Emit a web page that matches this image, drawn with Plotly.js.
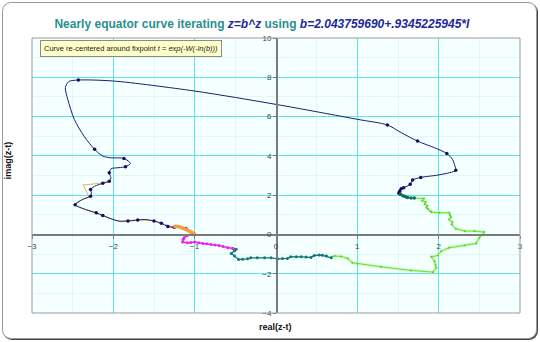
<!DOCTYPE html>
<html>
<head>
<meta charset="utf-8">
<script src="https://cdn.plot.ly/plotly-3.0.1.min.js"></script>
<style>
html,body{margin:0;padding:0;background:#fff;}
#frame{position:absolute;left:2px;top:2px;width:533px;height:335px;border:1px solid #9a9a9a;border-radius:9px;box-shadow:1px 1px 0 #444;background:#fff;}
#chart{position:absolute;left:0;top:0;width:540px;height:342px;}
</style>
</head>
<body>
<div id="frame"></div>
<div id="chart"></div>
<script>
// Navy segment (smooth line)
const navyX = [-1.05,-1.11,-1.17,-1.25,-1.33,-1.41,-1.50,-1.60,-1.70,-1.82,-1.93,-2.03,-2.13,-2.21,-2.34,-2.47,-2.38,-2.28,-2.27,-2.28,-2.21,-2.13,-2.05,-2.03,-2.05,-2.03,-1.93,-1.85,-1.79,-1.87,-2.03,-2.13,-2.23,-2.36,-2.48,-2.56,-2.59,-2.55,-2.43,-2.0,-1.0,0.0,1.0,1.37,1.54,1.74,1.95,2.10,2.17,2.20,2.21,2.03,1.78,1.68,1.65,1.57,1.52,1.52,1.53];
const navyY = [0.17,0.30,0.40,0.36,0.40,0.57,0.68,0.76,0.73,0.68,0.68,0.80,0.97,1.10,1.27,1.51,1.78,1.95,2.12,2.29,2.49,2.60,2.71,2.89,3.14,3.34,3.40,3.45,3.61,3.87,3.90,3.99,4.33,5.0,5.86,6.87,7.47,7.78,7.86,7.81,7.30,6.62,5.86,5.57,5.18,4.75,4.41,4.12,3.82,3.48,3.27,3.05,2.90,2.77,2.55,2.38,2.30,2.15,2.04];
// Navy computed points (dots)
const navyDotX = [-1.11,-1.25,-1.33,-1.41,-1.50,-1.70,-1.82,-2.13,-2.21,-2.47,-2.28,-2.28,-2.13,-2.05,-2.05,-1.85,-1.87,-2.23,-2.43,1.37,1.74,2.10,2.21,1.78,1.68,1.65,1.57,1.54,1.52,1.51,1.53];
const navyDotY = [0.30,0.36,0.40,0.57,0.68,0.73,0.68,0.97,1.10,1.51,1.95,2.29,2.60,2.71,3.14,3.45,3.87,4.33,7.86,5.57,4.75,4.12,3.27,2.90,2.77,2.55,2.38,2.33,2.20,2.10,2.04];
// Teal segment near (1.6, 1.9)
const teal1X = [1.53,1.56,1.58,1.60,1.62,1.66,1.70];
const teal1Y = [2.04,1.97,1.95,1.90,1.88,1.86,1.85];
// Light green segment
const greenX = [1.70,1.82,1.80,1.84,1.83,1.86,1.85,1.87,1.90,1.91,2.01,2.13,2.14,2.15,2.13,2.17,2.16,2.21,2.32,2.44,2.56,2.50,2.46,2.32,2.13,2.03,1.99,1.91,1.95,1.96,1.97,1.93,1.66,1.29,1.0,0.94,0.88,0.80,0.72,0.68];
const greenY = [1.85,1.83,1.72,1.65,1.55,1.45,1.36,1.28,1.18,1.14,1.10,1.10,0.98,0.88,0.76,0.62,0.51,0.29,0.17,0.17,0.12,-0.17,-0.46,-0.56,-0.68,-0.85,-1.07,-1.14,-1.36,-1.55,-1.70,-1.92,-1.83,-1.65,-1.49,-1.44,-1.22,-1.12,-1.10,-1.15];
// Teal segment along y ~ -1.2
const teal2X = [0.68,0.62,0.57,0.53,0.47,0.43,0.37,0.31,0.25,0.18,0.14,0.08,0.02,-0.06,-0.14,-0.23,-0.31,-0.35,-0.41,-0.46,-0.51,-0.55,-0.51,-0.49,-0.53];
const teal2Y = [-1.19,-1.10,-1.06,-1.05,-1.07,-1.17,-1.15,-1.14,-1.13,-1.14,-1.22,-1.23,-1.24,-1.19,-1.19,-1.19,-1.19,-1.24,-1.26,-1.27,-1.10,-0.97,-0.83,-0.76,-0.72];
// Magenta segment
const magX = [-0.53,-0.59,-0.65,-0.70,-0.75,-0.80,-0.85,-0.90,-0.95,-1.0,-1.05,-1.09,-1.15,-1.14,-1.13,-1.09,-1.03,-1.0];
const magY = [-0.72,-0.68,-0.62,-0.56,-0.54,-0.51,-0.48,-0.46,-0.42,-0.39,-0.41,-0.42,-0.39,-0.25,-0.17,-0.05,0.0,0.0];
// Orange segment
const orangeX = [-1.0,-1.05,-1.11,-1.17,-1.29,-1.41,-1.52,-1.70,-1.93,-2.13,-2.34,-2.47,-2.40,-2.30,-2.37,-2.26,-2.15,-2.05];
const orangeY = [0.0,0.12,0.25,0.40,0.42,0.57,0.70,0.75,0.66,0.95,1.25,1.51,1.72,1.92,2.52,2.56,2.62,2.72];
const orangeDotX = [-1.0,-1.01,-1.03,-1.05,-1.07,-1.09,-1.12,-1.15,-1.18,-1.21,-1.24];
const orangeDotY = [0.0,0.04,0.08,0.12,0.17,0.22,0.28,0.33,0.38,0.41,0.40];

const titleText = 'Nearly equator curve iterating <span style="color:#1c2a9c"><i>z=b^z</i></span> using <span style="color:#1c2a9c"><i>b=2.043759690+.9345225945*I</i></span>';
const boxText = 'Curve re-centered around fixpoint <i>t = exp(-W(-ln(b)))</i>';

const traces = [
  {x: orangeX, y: orangeY, mode: 'lines', line: {color: '#f0b050', width: 1}, hoverinfo: 'skip'},
  {x: greenX, y: greenY, mode: 'lines', line: {color: 'rgba(180,255,140,0.6)', width: 3}, hoverinfo: 'skip'},
  {x: greenX, y: greenY, mode: 'lines+markers', line: {color: '#66dd44', width: 1}, marker: {color: '#55cc33', size: 2}, hoverinfo: 'skip'},
  {x: navyX, y: navyY, mode: 'lines', line: {color: '#1a1f6e', width: 1, shape: 'spline', smoothing: 0.8}, hoverinfo: 'skip'},
  {x: navyDotX, y: navyDotY, mode: 'markers', marker: {color: '#101060', size: 3.5}, hoverinfo: 'skip'},
  {x: teal1X, y: teal1Y, mode: 'lines+markers', line: {color: '#107060', width: 1.2}, marker: {color: '#107060', size: 3.5}, hoverinfo: 'skip'},
  {x: teal2X, y: teal2Y, mode: 'lines+markers', line: {color: '#107878', width: 1.3}, marker: {color: '#107878', size: 3}, hoverinfo: 'skip'},
  {x: magX, y: magY, mode: 'lines+markers', line: {color: '#ee22ee', width: 1.5}, marker: {color: '#ee22ee', size: 3}, hoverinfo: 'skip'},
  {x: orangeDotX, y: orangeDotY, mode: 'markers', marker: {color: '#f0a040', size: 4}, hoverinfo: 'skip'}
];

const layout = {
  width: 540, height: 342,
  margin: {l: 32, r: 20, t: 38, b: 29},
  paper_bgcolor: 'rgba(0,0,0,0)',
  plot_bgcolor: '#f4ffff',
  showlegend: false,
  title: {text: titleText, font: {family: 'Liberation Sans, Arial', size: 12, color: '#2a8f8f', weight: 'bold'}, x: 0.485, xref: 'container', xanchor: 'center', y: 0.93, yref: 'container', yanchor: 'middle'},
  xaxis: {
    range: [-3, 3], dtick: 1, tick0: 0, anchor: 'free', position: 4/14,
    showline: true, linecolor: '#7a7a7a', linewidth: 1.5,
    ticks: 'outside', ticklen: 3, tickcolor: '#7a7a7a',
    showgrid: true, gridcolor: '#5fe3e3', gridwidth: 1, zeroline: false,
    minor: {dtick: 0.5, showgrid: true, gridcolor: '#e3f6f6'},
    tickfont: {family: 'Liberation Sans, Arial', size: 8, color: '#444'}, fixedrange: true
  },
  yaxis: {
    range: [-4, 10], dtick: 2, tick0: 0, anchor: 'free', position: 0.5,
    showline: true, linecolor: '#7a7a7a', linewidth: 1.5,
    ticks: 'outside', ticklen: 3, tickcolor: '#7a7a7a',
    showgrid: true, gridcolor: '#5fe3e3', gridwidth: 1, zeroline: false,
    minor: {dtick: 1, showgrid: true, gridcolor: '#e3f6f6'},
    tickfont: {family: 'Liberation Sans, Arial', size: 8, color: '#444'}, fixedrange: true
  },
  shapes: [
    {type: 'rect', xref: 'paper', yref: 'paper', x0: 0, x1: 1, y0: 0, y1: 1, line: {color: '#9a9a9a', width: 1}}
  ],
  annotations: [
    {text: boxText, xref: 'paper', yref: 'paper', x: 0.203, y: 0.9636, xanchor: 'center', yanchor: 'middle', showarrow: false,
     font: {family: 'Liberation Sans, Arial', size: 7.5, color: '#222'}, bgcolor: '#ffffc8', bordercolor: '#8a8a8a', borderwidth: 1, borderpad: 3},
    {text: '<b>imag(z-t)</b>', xref: 'paper', yref: 'paper', x: -0.049, y: 0.556, xanchor: 'center', yanchor: 'middle', textangle: -90, showarrow: false,
     font: {family: 'Liberation Sans, Arial', size: 9, color: '#111'}},
    {text: '<b>real(z-t)</b>', xref: 'paper', yref: 'paper', x: 0.498, y: -0.051, xanchor: 'center', yanchor: 'middle', showarrow: false,
     font: {family: 'Liberation Sans, Arial', size: 9, color: '#111'}}
  ]
};

Plotly.newPlot('chart', traces, layout, {displayModeBar: false, staticPlot: true});
</script>
</body>
</html>
